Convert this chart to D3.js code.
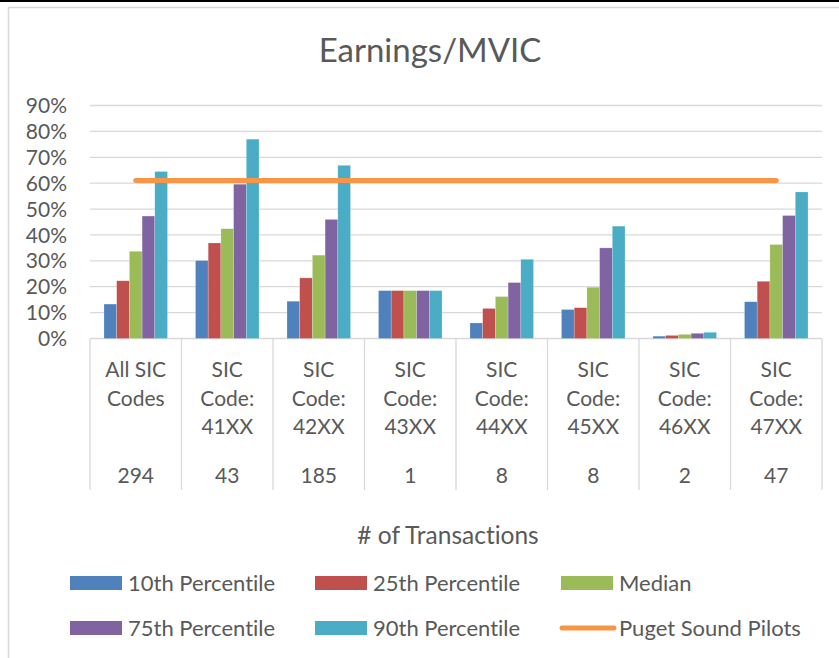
<!DOCTYPE HTML>
<html>
<head>
<meta charset="utf-8">
<title>Earnings/MVIC</title>
<style>
	body { margin: 0; background: #fff; }
	text { font-family: Lato, "Open Sans", sans-serif; fill: #595959; font-variant-ligatures: none; }
</style>
</head>

<body>
<div id="chart"></div>

	<script src="https://cdnjs.cloudflare.com/ajax/libs/d3/7.8.5/d3.min.js" charset="utf-8"></script>
	<script>
	// data
	var categories = [["All SIC", "Codes"], ["SIC", "Code:", "41XX"], ["SIC", "Code:", "42XX"], ["SIC", "Code:", "43XX"],
					  ["SIC", "Code:", "44XX"], ["SIC", "Code:", "45XX"], ["SIC", "Code:", "46XX"], ["SIC", "Code:", "47XX"]];
	var counts = ["294", "43", "185", "1", "8", "8", "2", "47"];
	var seriesNames = ["10th Percentile", "25th Percentile", "Median", "75th Percentile", "90th Percentile"];
	var p10    = [0.133, 0.301, 0.144, 0.185, 0.060, 0.112, 0.009, 0.142];
	var p25    = [0.223, 0.369, 0.234, 0.185, 0.116, 0.119, 0.012, 0.221];
	var median = [0.337, 0.424, 0.322, 0.185, 0.162, 0.198, 0.016, 0.363];
	var p75    = [0.473, 0.596, 0.460, 0.185, 0.216, 0.350, 0.020, 0.475];
	var p90    = [0.645, 0.770, 0.669, 0.185, 0.306, 0.434, 0.024, 0.566];
	var pilots = [0.61, 0.61, 0.61, 0.61, 0.61, 0.61, 0.61, 0.61];
	var yTicks = [0, 0.1, 0.2, 0.3, 0.4, 0.5, 0.6, 0.7, 0.8, 0.9];

	var colors = ["#4F81BD", "#C0504D", "#9BBB59", "#8064A2", "#4BACC6"];
	var lineColor = "#F79646";
	var series = [p10, p25, median, p75, p90];

	var W = 839, H = 658;
	var svg = d3.select("#chart")
				.append("svg")
				.attr("width", W)
				.attr("height", H);

	svg.append("rect").attr("width", W).attr("height", H).attr("fill", "#fff");

	// frame
	svg.append("rect").attr("x", 0).attr("y", 0).attr("width", W).attr("height", 2).attr("fill", "#000");
	svg.append("path")
		.attr("d", "M8.5,658V7.5H839")
		.attr("fill", "none")
		.attr("stroke", "#d9d9d9")
		.attr("stroke-width", 1.5);

	var x0 = d3.scaleBand()
				.domain(d3.range(categories.length))
				.range([90, 822]);
	var x1 = d3.scaleBand()
				.domain(d3.range(series.length))
				.range([0, x0.bandwidth()])
				.paddingOuter(1.1);
	var y = d3.scaleLinear()
				.domain([0, 0.9])
				.range([338.5, 105.5]);

	// gridlines
	svg.append("g")
		.selectAll("line")
		.data(yTicks)
		.enter()
		.append("line")
		.attr("x1", 90)
		.attr("x2", 822)
		.attr("y1", function(d){ return y(d); })
		.attr("y2", function(d){ return y(d); })
		.attr("stroke", "#d9d9d9")
		.attr("stroke-width", 1.3);

	// y labels
	svg.append("g")
		.selectAll("text")
		.data(yTicks)
		.enter()
		.append("text")
		.attr("x", 67)
		.attr("y", function(d){ return y(d); })
		.attr("dy", "0.36em")
		.attr("text-anchor", "end")
		.style("font-size", "21px")
		.text(d3.format(".0%"));

	// bars
	var groups = svg.append("g")
		.selectAll("g")
		.data(series)
		.enter()
		.append("g")
		.attr("fill", function(d, i){ return colors[i]; });

	groups.selectAll("rect")
		.data(function(d, i){ return d.map(function(v, j){ return {s: i, c: j, v: v}; }); })
		.enter()
		.append("rect")
		.attr("x", function(d){ return x0(d.c) + x1(d.s); })
		.attr("width", x1.bandwidth())
		.attr("y", function(d){ return y(d.v); })
		.attr("height", function(d){ return y(0) - y(d.v); })
		.attr("stroke", "#fff")
		.attr("stroke-opacity", 0.35)
		.attr("stroke-width", 0.6);

	// category separators
	svg.append("g")
		.selectAll("line")
		.data(d3.range(categories.length + 1))
		.enter()
		.append("line")
		.attr("x1", function(d){ return d < categories.length ? x0(d) : x0.range()[1]; })
		.attr("x2", function(d){ return d < categories.length ? x0(d) : x0.range()[1]; })
		.attr("y1", 338.5)
		.attr("y2", 490)
		.attr("stroke", "#d9d9d9")
		.attr("stroke-width", 1.3);

	// category labels
	var catG = svg.append("g")
		.selectAll("text")
		.data(categories)
		.enter()
		.append("text")
		.attr("text-anchor", "middle")
		.style("font-size", "21px");
	catG.selectAll("tspan")
		.data(function(d, i){ return d.map(function(t){ return {t: t, c: i}; }); })
		.enter()
		.append("tspan")
		.attr("x", function(d){ return x0(d.c) + x0.bandwidth() / 2; })
		.attr("y", function(d, k){ return 377 + k * 28.6; })
		.text(function(d){ return d.t; });

	svg.append("g")
		.selectAll("text")
		.data(counts)
		.enter()
		.append("text")
		.attr("x", function(d, i){ return x0(i) + x0.bandwidth() / 2; })
		.attr("y", 483)
		.attr("text-anchor", "middle")
		.style("font-size", "21px")
		.text(function(d){ return d; });

	// pilots line
	var line = d3.line()
		.x(function(d, i){ return x0(i) + x0.bandwidth() / 2; })
		.y(function(d){ return y(d); });
	svg.append("path")
		.datum(pilots)
		.attr("d", line)
		.attr("fill", "none")
		.attr("stroke", lineColor)
		.attr("stroke-width", 5)
		.attr("stroke-linecap", "round");

	// titles
	svg.append("text")
		.attr("x", 430)
		.attr("y", 62)
		.attr("text-anchor", "middle")
		.style("font-size", "33px")
		.text("Earnings/MVIC");

	svg.append("text")
		.attr("x", 448)
		.attr("y", 544)
		.attr("text-anchor", "middle")
		.style("font-size", "24.5px")
		.text("# of Transactions");

	// legend
	var legendItems = seriesNames.concat(["Puget Sound Pilots"]);
	var colX = [70, 315, 561];
	var rowY = [583, 628];
	var leg = svg.append("g")
		.selectAll("g")
		.data(legendItems)
		.enter()
		.append("g")
		.attr("transform", function(d, i){ return "translate(" + colX[i % 3] + "," + rowY[Math.floor(i / 3)] + ")"; });

	leg.each(function(d, i){
		var g = d3.select(this);
		if (i < 5) {
			g.append("rect")
				.attr("x", 0)
				.attr("y", -7)
				.attr("width", 52)
				.attr("height", 14)
				.attr("fill", colors[i]);
		} else {
			g.append("line")
				.attr("x1", 1)
				.attr("x2", 53)
				.attr("stroke", lineColor)
				.attr("stroke-width", 5)
				.attr("stroke-linecap", "round");
		}
		g.append("text")
			.attr("x", 58)
			.attr("dy", "0.36em")
			.style("font-size", "22px")
			.text(d);
	});
	</script>
</body>
</html>
